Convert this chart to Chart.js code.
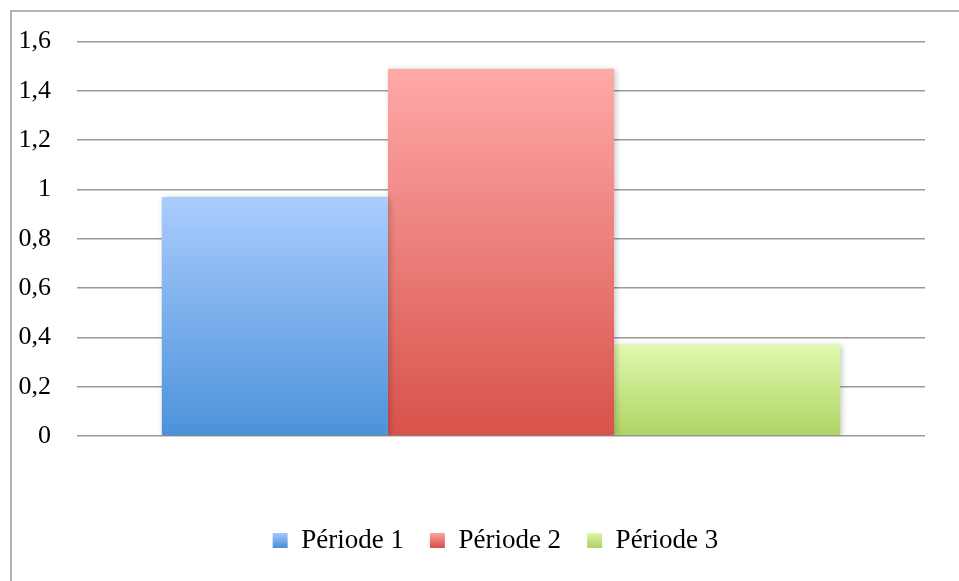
<!DOCTYPE html>
<html>
<head>
<meta charset="utf-8">
<script src="https://cdn.jsdelivr.net/npm/chart.js@4.4.0/dist/chart.umd.min.js"></script>
<style>
  html, body { margin: 0; padding: 0; background: #fff; }
  #wrap { width: 959px; height: 581px; position: relative; }
</style>
</head>
<body>
<div id="wrap"><canvas id="graphique"></canvas></div>
<script>
// Données
const categories = [''];
const periodes = ['Période 1', 'Période 2', 'Période 3'];
const valeurs = [0.97, 1.49, 0.37];
const ticksY = [0, 0.2, 0.4, 0.6, 0.8, 1, 1.2, 1.4, 1.6];

// couleurs haut / bas du dégradé
const couleursHaut = ['#aaccfd', '#fea9a8', '#e0f9ae'];
const couleursBas = ['#4c92da', '#d8524a', '#afd363'];

function degrade(i) {
    return (context) => {
        const chart = context.chart;
        const y = chart.scales.y;
        if (!chart.chartArea || !y) return couleursBas[i];
        const haut = y.getPixelForValue(valeurs[i]);
        const bas = y.getPixelForValue(0);
        const g = chart.ctx.createLinearGradient(0, haut, 0, bas);
        g.addColorStop(0, couleursHaut[i]);
        g.addColorStop(1, couleursBas[i]);
        return g;
    };
}

// cadre du graphique (bords haut et gauche visibles)
const cadre = {
    id: 'cadre',
    beforeDraw(chart) {
        const ctx = chart.ctx;
        ctx.save();
        ctx.strokeStyle = '#b3b3b3';
        ctx.lineWidth = 2;
        ctx.beginPath();
        ctx.moveTo(11, 600);
        ctx.lineTo(11, 11);
        ctx.lineTo(1000, 11);
        ctx.stroke();
        ctx.restore();
    }
};

// légende un peu décalée vers la droite, comme l'original
const decalageLegende = {
    id: 'decalageLegende',
    afterLayout(chart) {
        if (chart.legend) {
            chart.legend.left += 24;
            chart.legend.right += 24;
        }
    }
};

// ombre légère sous les barres
const ombre = {
    id: 'ombre',
    beforeDatasetsDraw(chart) {
        const ctx = chart.ctx;
        ctx.save();
        ctx.shadowColor = 'rgba(0,0,0,0.22)';
        ctx.shadowBlur = 6;
        ctx.shadowOffsetX = 2;
        ctx.shadowOffsetY = 1;
    },
    afterDatasetsDraw(chart) {
        chart.ctx.restore();
    }
};

const datasets = periodes.map((nom, i) => ({
    label: nom,
    data: [valeurs[i]],
    backgroundColor: degrade(i),
    borderWidth: 0,
    categoryPercentage: 0.8,
    barPercentage: 1
}));

const ctx = document.getElementById('graphique').getContext('2d');
new Chart(ctx, {
    type: 'bar',
    data: { labels: categories, datasets: datasets },
    plugins: [cadre, ombre, decalageLegende],
    options: {
        responsive: true,
        maintainAspectRatio: false,
        animation: false,
        layout: { padding: { left: 18, right: 34, top: 18, bottom: 17 } },
        plugins: {
            legend: {
                position: 'bottom',
                labels: {
                    boxWidth: 15,
                    boxHeight: 15,
                    padding: 26,
                    color: '#000',
                    font: { family: 'Liberation Serif', size: 27 },
                    generateLabels: (chart) => periodes.map((nom, i) => {
                        const a = chart.chartArea;
                        let fill = couleursBas[i];
                        if (a) {
                            const g = chart.ctx.createLinearGradient(0, 532, 0, 547);
                            g.addColorStop(0, couleursHaut[i]);
                            g.addColorStop(1, couleursBas[i]);
                            fill = g;
                        }
                        return {
                            text: nom,
                            fillStyle: fill,
                            strokeStyle: 'rgba(0,0,0,0)',
                            lineWidth: 0,
                            fontColor: '#000',
                            datasetIndex: i,
                            hidden: false
                        };
                    })
                }
            },
            tooltip: { enabled: false }
        },
        scales: {
            x: {
                ticks: { display: false },
                grid: { display: false },
                border: { display: false },
                afterFit: (axis) => { axis.height = 65; }
            },
            y: {
                min: 0,
                max: 1.6,
                afterBuildTicks: (axis) => { axis.ticks = ticksY.map(v => ({ value: v })); },
                afterFit: (axis) => { axis.width = 59; },
                ticks: {
                    color: '#000',
                    padding: 26,
                    font: { family: 'Liberation Serif', size: 26 },
                    callback: (v) => String(Math.round(v * 10) / 10).replace('.', ',')
                },
                grid: { color: '#9a9a9a', lineWidth: 1.6, drawTicks: false },
                border: { display: false }
            }
        }
    }
});
</script>
</body>
</html>
